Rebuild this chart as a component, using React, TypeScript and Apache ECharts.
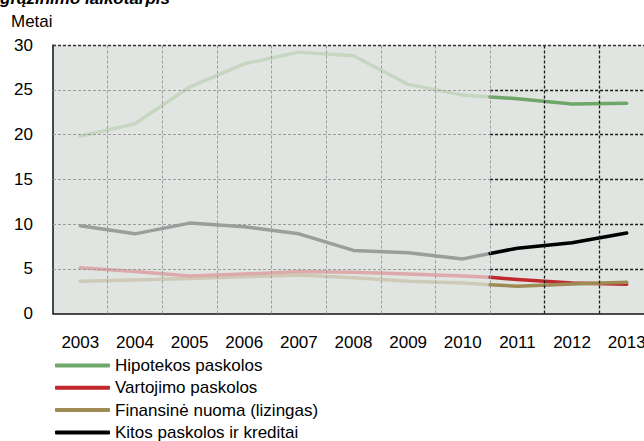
import React, { useEffect, useRef } from "react";
import * as echarts from "echarts";

const years = ["2003", "2004", "2005", "2006", "2007", "2008", "2009", "2010", "2011", "2012", "2013"];
const yTicks = [0, 5, 10, 15, 20, 25, 30];
// x positions (category index) of the actual and forecast segments
const histX = [0, 1, 2, 3, 4, 5, 6, 7, 7.5];
const forecastX = [7.5, 8, 9, 10];

const hipotekosHist = [19.8, 21.2, 25.3, 27.9, 29.2, 28.8, 25.6, 24.4, 24.2];
const hipotekosForecast = [24.2, 24.0, 23.4, 23.5];
const vartojimoHist = [5.1, 4.7, 4.2, 4.4, 4.7, 4.6, 4.4, 4.2, 4.05];
const vartojimoForecast = [4.05, 3.8, 3.4, 3.27];
const finansineHist = [3.6, 3.75, 3.9, 4.1, 4.3, 4.0, 3.6, 3.4, 3.2];
const finansineForecast = [3.2, 3.05, 3.3, 3.5];
const kitosHist = [9.8, 8.9, 10.1, 9.7, 8.9, 7.05, 6.8, 6.1, 6.7];
const kitosForecast = [6.7, 7.3, 7.9, 9.0];

const names = [
  "Hipotekos paskolos",
  "Vartojimo paskolos",
  "Finansinė nuoma (lizingas)",
  "Kitos paskolos ir kreditai",
];
const splitIndex = 7.5; // boundary between 2010 and 2011

const FONT = "Liberation Sans";

function pairs(xs: number[], ys: number[]) {
  return xs.map((x, i) => [x, ys[i]]);
}

export default function App() {
  const ref = useRef<HTMLDivElement>(null);
  useEffect(() => {
    if (!ref.current) return;
    const chart = echarts.init(ref.current, null, { renderer: "svg" });
    const xMin = -0.5;
    const xMax = years.length - 0.5;
    const grayLine = { color: "#9c9c9c", width: 1, type: [3, 2] as any };
    const blackLine = { color: "#1a1a1a", width: 1.3, type: [3, 2] as any };
    const gridLines: any[] = [];
    yTicks.slice(1, -1).forEach((v) => {
      gridLines.push([{ coord: [xMin, v], lineStyle: grayLine }, { coord: [splitIndex, v] }]);
      gridLines.push([{ coord: [splitIndex, v], lineStyle: blackLine }, { coord: [xMax, v] }]);
    });
    for (let k = 0; k < years.length - 1; k++) {
      const x = k + 0.5;
      gridLines.push([
        { coord: [x, 0], lineStyle: x > splitIndex ? blackLine : grayLine },
        { coord: [x, yTicks[yTicks.length - 1]] },
      ]);
    }
    gridLines.push([
      { coord: [xMin, 30], lineStyle: { color: "#333", width: 1.3, type: [3, 2] } },
      { coord: [xMax, 30] },
    ]);

    const lineSeries = (name: string, data: number[][], color: string, z: number, w = 3.5) => ({
      name,
      type: "line",
      xAxisIndex: 1,
      yAxisIndex: 0,
      data,
      showSymbol: false,
      symbol: "none",
      color,
      lineStyle: { color, width: w, cap: "round", join: "round" },
      itemStyle: { color },
      z,
      silent: true,
    });

    chart.setOption({
      animation: false,
      grid: {
        left: 53,
        top: 45,
        width: 601,
        height: 268.5,
        outerBoundsMode: "none",
        containLabel: false,
        show: true,
        backgroundColor: "#e1e5e1",
        borderWidth: 0,
      },
      xAxis: [
        {
          type: "category",
          data: years,
          boundaryGap: true,
          axisLine: { lineStyle: { color: "#111", width: 1.5 } },
          axisTick: { show: false },
          axisLabel: { fontSize: 17, color: "#000", margin: 20, fontFamily: FONT, interval: 0 },
          splitLine: { show: false },
        },
        { type: "value", min: xMin, max: xMax, show: false },
      ],
      yAxis: {
        type: "value",
        min: yTicks[0],
        max: yTicks[yTicks.length - 1],
        interval: 5,
        axisLine: { show: true, onZero: false, lineStyle: { color: "#111", width: 1.5 } },
        axisTick: { show: false },
        axisLabel: { fontSize: 17, color: "#000", margin: 20, fontFamily: FONT },
        splitLine: { show: false },
      },
      legend: {
        orient: "vertical",
        left: 55,
        top: 357,
        padding: 0,
        itemWidth: 55,
        itemHeight: 4,
        itemGap: 5.3,
        icon: "roundRect",
        selectedMode: false,
        textStyle: { fontSize: 17, color: "#000", fontFamily: FONT, lineHeight: 17 },
        data: names,
      },
      graphic: [
        {
          type: "text",
          left: 0,
          top: -10,
          style: { text: "grąžinimo laikotarpis", font: `italic bold 17px "${FONT}"`, fill: "#000" },
        },
        {
          type: "text",
          left: 11,
          top: 13,
          style: { text: "Metai", font: `17px "${FONT}"`, fill: "#000" },
        },
      ],
      series: [
        {
          name: "grid",
          type: "line",
          xAxisIndex: 1,
          data: [[xMin, 0]],
          showSymbol: false,
          lineStyle: { opacity: 0 },
          z: 1,
          silent: true,
          markLine: {
            silent: true,
            symbol: ["none", "none"],
            label: { show: false },
            animation: false,
            data: gridLines,
          },
        },
        lineSeries("Hipotekos paskolos (faktas)", pairs(histX, hipotekosHist), "#c6d6c1", 3),
        lineSeries("Kitos paskolos ir kreditai (faktas)", pairs(histX, kitosHist), "#9d9e9c", 3),
        lineSeries("Finansinė nuoma (faktas)", pairs(histX, finansineHist), "#cfcab8", 3),
        lineSeries("Vartojimo paskolos (faktas)", pairs(histX, vartojimoHist), "#dcaaaa", 3),
        lineSeries(names[0], pairs(forecastX, hipotekosForecast), "#6fa66a", 4),
        lineSeries(names[3], pairs(forecastX, kitosForecast), "#000000", 4),
        lineSeries(names[1], pairs(forecastX, vartojimoForecast), "#c0282d", 4),
        lineSeries(names[2], pairs(forecastX, finansineForecast), "#9e8a55", 4),
      ],
    });
    return () => chart.dispose();
  }, []);
  return (
    <div
      ref={ref}
      style={{ position: "absolute", left: 0, top: 0, width: 644, height: 441, background: "#fff" }}
    />
  );
}
